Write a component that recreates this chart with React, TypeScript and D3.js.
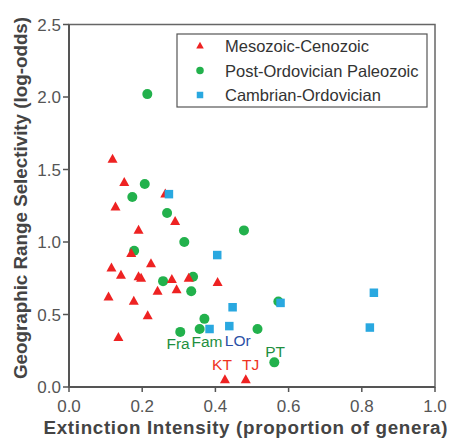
import React from 'react';
import * as d3 from 'd3';

// [extinction intensity, selectivity]
const mesoCeno: [number, number][] = [
  [0.119, 1.57], [0.151, 1.41], [0.127, 1.24], [0.263, 1.33], [0.29, 1.14],
  [0.19, 1.08], [0.17, 0.92], [0.224, 0.85], [0.116, 0.82], [0.142, 0.77],
  [0.19, 0.76], [0.197, 0.75], [0.281, 0.74], [0.327, 0.75], [0.406, 0.72],
  [0.242, 0.66], [0.294, 0.67], [0.108, 0.62], [0.177, 0.59], [0.215, 0.49],
  [0.135, 0.34], [0.426, 0.05], [0.483, 0.05],
];
const postOrd: [number, number][] = [
  [0.214, 2.02], [0.207, 1.4], [0.173, 1.31], [0.268, 1.2], [0.315, 1.0],
  [0.178, 0.94], [0.478, 1.08], [0.257, 0.73], [0.339, 0.76], [0.334, 0.66],
  [0.37, 0.47], [0.357, 0.4], [0.304, 0.38], [0.572, 0.59], [0.515, 0.4],
  [0.561, 0.17],
];
const cambOrd: [number, number][] = [
  [0.273, 1.33], [0.405, 0.91], [0.384, 0.4], [0.447, 0.55], [0.438, 0.42],
  [0.578, 0.58], [0.833, 0.65], [0.822, 0.41],
];
const seriesNames = ['Mesozoic-Cenozoic', 'Post-Ordovician Paleozoic', 'Cambrian-Ordovician'];
const xTicks = [0, 0.2, 0.4, 0.6, 0.8, 1.0];
const yTicks = [0, 0.5, 1.0, 1.5, 2.0, 2.5];
// event labels, anchored in data units
const eventLabels: { text: string; x: number; y: number; kind: number }[] = [
  { text: 'Fra', x: 0.298, y: 0.297, kind: 1 },
  { text: 'Fam', x: 0.377, y: 0.311, kind: 1 },
  { text: 'LOr', x: 0.461, y: 0.324, kind: 2 },
  { text: 'PT', x: 0.563, y: 0.248, kind: 1 },
  { text: 'KT', x: 0.418, y: 0.152, kind: 0 },
  { text: 'TJ', x: 0.496, y: 0.152, kind: 0 },
];

const colors = ['#ee2222', '#22b14c', '#29a8e0'];
const labelColors = ['#ee3322', '#1f8f3f', '#2b4fa6'];
const font = '"Liberation Sans", Arial, sans-serif';

const Marker = ({ kind, x, y, s }: { kind: number; x: number; y: number; s: number }) => {
  if (kind === 0) {
    const h = s * 0.9;
    return (
      <path
        d={`M${x},${y - h * 0.62}L${x + s / 2},${y + h * 0.38}L${x - s / 2},${y + h * 0.38}Z`}
        fill={colors[0]}
      />
    );
  }
  if (kind === 1) return <circle cx={x} cy={y} r={s / 2} fill={colors[1]} />;
  return <rect x={x - s / 2} y={y - s / 2} width={s} height={s} fill={colors[2]} />;
};

export default function App() {
  const x = d3.scaleLinear().domain([0, 1]).range([69, 435]);
  const y = d3.scaleLinear().domain([0, 2.5]).range([387, 24.5]);
  const series = [mesoCeno, postOrd, cambOrd];
  // draw order: green first, then red, then blue on top
  const order = [1, 0, 2];

  return (
    <svg
      width={452}
      height={439}
      style={{ position: 'absolute', left: 0, top: 0, background: '#fff' }}
      fontFamily={font}
    >
      <rect x={x(0)} y={y(2.5)} width={x(1) - x(0)} height={y(0) - y(2.5)} fill="none" stroke="#666" strokeWidth={1.5} />
      <line x1={x(0)} x2={x(0)} y1={y(2.5)} y2={y(0)} stroke="#555" strokeWidth={2} />
      <line x1={x(0)} x2={x(1)} y1={y(0)} y2={y(0)} stroke="#555" strokeWidth={2} />

      {xTicks.map((t) => (
        <g key={'x' + t}>
          <line x1={x(t)} x2={x(t)} y1={y(0)} y2={y(0) + 5} stroke="#555" strokeWidth={1.5} />
          <text x={x(t)} y={y(0) + 25} textAnchor="middle" fontSize={17} fill="#555">
            {d3.format('.1f')(t)}
          </text>
        </g>
      ))}
      {yTicks.map((t) => (
        <g key={'y' + t}>
          <line x1={x(0) - 6} x2={x(0)} y1={y(t)} y2={y(t)} stroke="#555" strokeWidth={1.5} />
          <text x={x(0) - 8} y={y(t) + 6} textAnchor="end" fontSize={17} fill="#555">
            {d3.format('.1f')(t)}
          </text>
        </g>
      ))}

      <text
        x={245.5}
        y={433.5}
        textAnchor="middle"
        fontSize={18.8}
        fontWeight="bold"
        fill="#444"
        textLength={404}
        lengthAdjust="spacing"
      >
        Extinction Intensity (proportion of genera)
      </text>
      <text
        transform={`translate(27,198) rotate(-90)`}
        textAnchor="middle"
        fontSize={18.8}
        fontWeight="bold"
        fill="#444"
      >
        Geographic Range Selectivity (log-odds)
      </text>

      {order.map((k) =>
        series[k].map((d, i) => <Marker key={k + '-' + i} kind={k} x={x(d[0])} y={y(d[1])} s={k === 2 ? 8.5 : 10} />)
      )}

      {eventLabels.map((l) => (
        <text key={l.text} x={x(l.x)} y={y(l.y) + 5.5} textAnchor="middle" fontSize={15.5} fill={labelColors[l.kind]}>
          {l.text}
        </text>
      ))}

      <g>
        <rect x={177} y={34} width={250} height={73} fill="#fff" stroke="#555" strokeWidth={1.2} />
        {seriesNames.map((n, i) => (
          <g key={n}>
            <Marker kind={i} x={200} y={46 + i * 24.5} s={i === 2 ? 6.5 : 7.5} />
            <text x={225} y={46 + i * 24.5 + 6} fontSize={16.5} fill="#333">
              {n}
            </text>
          </g>
        ))}
      </g>
    </svg>
  );
}
